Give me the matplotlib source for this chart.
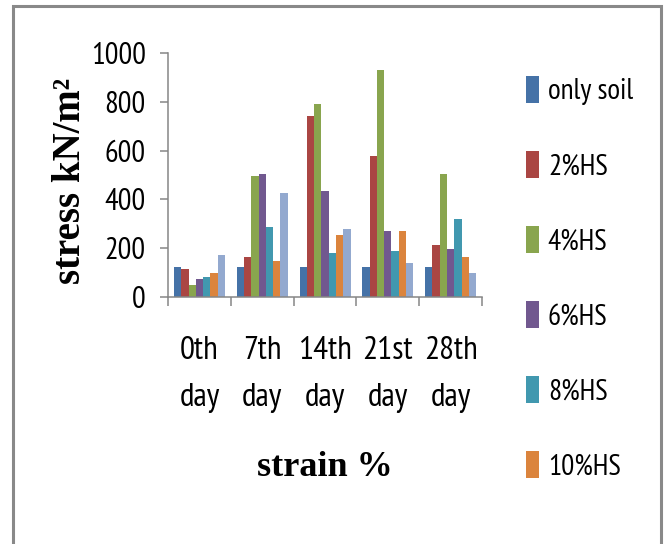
import numpy as np
import matplotlib
matplotlib.use("Agg")
import matplotlib.pyplot as plt
from matplotlib import font_manager as fm
from matplotlib.patches import Rectangle

# === DATA: stress (kN/m2) per curing day ===
days = ["0th\nday", "7th\nday", "14th\nday", "21st\nday", "28th\nday"]
series_names = ["only soil", "2%HS", "4%HS", "6%HS", "8%HS", "10%HS"]

only_soil = [123, 123, 123, 123, 123]
hs_2 = [115, 164, 742, 579, 212]
hs_4 = [48, 497, 791, 930, 505]
hs_6 = [74, 505, 433, 269, 197]
hs_8 = [82, 285, 180, 189, 318]
hs_10 = [98, 148, 253, 269, 164]
hs_12 = [172, 425, 277, 139, 98]

series = [only_soil, hs_2, hs_4, hs_6, hs_8, hs_10, hs_12]
colors = ["#4572A7", "#AA4643", "#89A54E", "#71588F", "#4198AF", "#DB843D", "#93A9CF"]

# === FONTS: narrow sans for numbers/legend, bold serif for titles ===
installed = {f.name for f in fm.fontManager.ttflist}
narrow = [n for n in ["Liberation Sans Narrow", "PT Sans Narrow", "Archivo Narrow",
                      "Roboto Condensed"] if n in installed]
SANS = narrow[:1] + ["Liberation Sans", "DejaVu Sans"]
SERIF = ["Liberation Serif", "DejaVu Serif"]
GRAY = "#868686"

fig = plt.figure(figsize=(6.67, 5.44), dpi=100)
ax = fig.add_axes([0.252, 0.454, 0.4706, 0.4486])

# === GROUPED BARS ===
x = np.arange(len(days))
w = 0.116
handles = []
for i, (vals, c) in enumerate(zip(series, colors)):
    b = ax.bar(x + (i - 3) * w, vals, width=w, color=c, linewidth=0)
    handles.append(b)

ax.set_xlim(-0.5, len(days) - 0.5)
ax.set_ylim(0, 1000)
ax.set_yticks(np.arange(0, 1001, 200))
ax.set_xticks(x)
ax.set_xticklabels(days, family=SANS, fontsize=24, linespacing=1.75)
ax.set_xticks(np.arange(-0.5, len(days), 1.0), minor=True)

for lbl in ax.get_yticklabels():
    lbl.set_family(SANS)
    lbl.set_fontsize(22)

ax.tick_params(axis="x", which="major", length=0, pad=28)
ax.tick_params(axis="x", which="minor", length=6.5, width=1.1, color=GRAY, direction="out")
ax.tick_params(axis="y", length=6, width=1.1, color=GRAY, direction="out", pad=10)

for side in ["top", "right"]:
    ax.spines[side].set_visible(False)
for side in ["left", "bottom"]:
    ax.spines[side].set_color(GRAY)
    ax.spines[side].set_linewidth(1.1)

# === AXIS TITLES ===
fig.text(71 / 667, 1 - 181 / 544, "stress kN/m²", rotation=90, ha="center", va="center",
         family=SERIF, fontweight="bold", fontsize=28)
fig.text(325 / 667, 1 - 468 / 544, "strain %", ha="center", va="center",
         family=SERIF, fontweight="bold", fontsize=26)

# === LEGEND (first six series) ===
fig.legend(handles[:6], series_names, loc="upper left",
           bbox_to_anchor=(526 / 667, 1 - 76 / 544), frameon=False,
           prop={"family": SANS, "size": 21},
           handlelength=0.45, handleheight=1.05, handletextpad=0.3,
           labelspacing=1.56, borderpad=0, borderaxespad=0)

# === CHART AREA BORDER ===
fig.patches.append(Rectangle((13 / 667, -0.05), (661 - 13) / 667, 1.05 - 6 / 544,
                             transform=fig.transFigure, fill=False,
                             edgecolor="#898989", linewidth=2.2))

fig.savefig("out.png", dpi=100)
